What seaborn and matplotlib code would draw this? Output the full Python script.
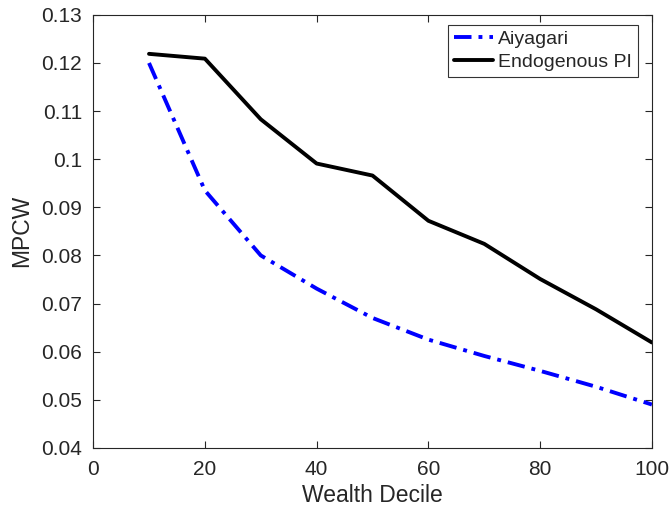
import numpy as np
import pandas as pd
import matplotlib
matplotlib.use('Agg')
import matplotlib.pyplot as plt
import seaborn as sns

deciles = [10, 20, 30, 40, 50, 60, 70, 80, 90, 100]
aiyagari = [0.1200, 0.0935, 0.0800, 0.0731, 0.0670, 0.0625, 0.0591, 0.0560, 0.0527, 0.0490]
endog_pi = [0.1219, 0.1209, 0.1083, 0.0991, 0.0966, 0.0872, 0.0824, 0.0751, 0.0688, 0.0619]

sns.set_style('white')
plt.rcParams['font.family'] = ['Liberation Sans', 'DejaVu Sans']

fig = plt.figure(figsize=(6.7, 5.13), dpi=100)
ax = fig.add_axes([0.139, 0.127, 0.834, 0.844])

sns.lineplot(x=deciles, y=aiyagari, ax=ax, color='#0000ff', lw=2.8,
             label='Aiyagari')
sns.lineplot(x=deciles, y=endog_pi, ax=ax, color='black', lw=2.8,
             label='Endogenous PI')
ax.lines[0].set_linestyle((0, (4.5, 1.8, 1.0, 1.8)))

ax.set_xlim(0, 100)
ax.set_ylim(0.04, 0.13)
ax.set_xticks(np.arange(0, 101, 20))
ax.set_yticks(np.arange(0.04, 0.1301, 0.01))
ax.set_yticklabels(['0.04', '0.05', '0.06', '0.07', '0.08', '0.09', '0.1',
                    '0.11', '0.12', '0.13'])
ax.tick_params(direction='in', length=5, width=0.8, colors='#262626',
               labelsize=15, top=True, right=True, bottom=True, left=True,
               labelcolor='#262626')
ax.tick_params(axis='y', pad=8)
ax.tick_params(axis='x', pad=9)
for s in ax.spines.values():
    s.set_color('#262626')
    s.set_linewidth(0.8)
ax.set_xlabel('Wealth Decile', fontsize=16.5, color='#262626', labelpad=3)
ax.set_ylabel('MPCW', fontsize=16.5, color='#262626', labelpad=6)

leg = ax.legend(loc='upper right', bbox_to_anchor=(0.975, 0.977),
                fontsize=14, frameon=True, fancybox=False,
                edgecolor='black', borderaxespad=0, handlelength=2.05,
                borderpad=0.3, labelspacing=0.25, handletextpad=0.25)
leg.get_frame().set_linewidth(0.8)

fig.savefig('out.png', dpi=100)
